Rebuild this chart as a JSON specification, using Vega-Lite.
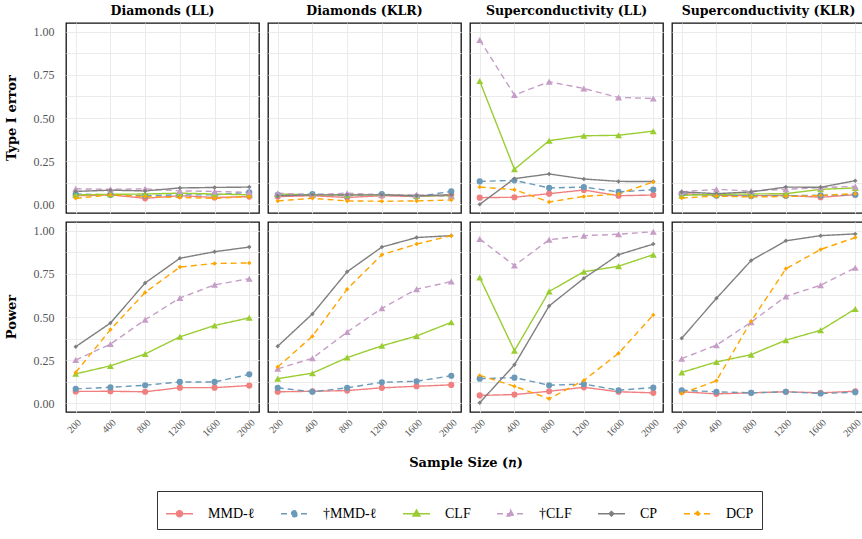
{
  "$schema": "https://vega.github.io/schema/vega-lite/v6.json",
  "background": "white",
  "padding": {"left": 5, "right": 6, "top": 4, "bottom": 6},
  "data": {
    "values": [
      {"dataset": "Diamonds (LL)", "metric": "Type I error", "method": "MMD-ℓ", "n": 200, "value": 0.05},
      {"dataset": "Diamonds (LL)", "metric": "Type I error", "method": "MMD-ℓ", "n": 400, "value": 0.055},
      {"dataset": "Diamonds (LL)", "metric": "Type I error", "method": "MMD-ℓ", "n": 800, "value": 0.035},
      {"dataset": "Diamonds (LL)", "metric": "Type I error", "method": "MMD-ℓ", "n": 1200, "value": 0.05},
      {"dataset": "Diamonds (LL)", "metric": "Type I error", "method": "MMD-ℓ", "n": 1600, "value": 0.04},
      {"dataset": "Diamonds (LL)", "metric": "Type I error", "method": "MMD-ℓ", "n": 2000, "value": 0.045},
      {"dataset": "Diamonds (LL)", "metric": "Type I error", "method": "†MMD-ℓ", "n": 200, "value": 0.06},
      {"dataset": "Diamonds (LL)", "metric": "Type I error", "method": "†MMD-ℓ", "n": 400, "value": 0.055},
      {"dataset": "Diamonds (LL)", "metric": "Type I error", "method": "†MMD-ℓ", "n": 800, "value": 0.05},
      {"dataset": "Diamonds (LL)", "metric": "Type I error", "method": "†MMD-ℓ", "n": 1200, "value": 0.055},
      {"dataset": "Diamonds (LL)", "metric": "Type I error", "method": "†MMD-ℓ", "n": 1600, "value": 0.055},
      {"dataset": "Diamonds (LL)", "metric": "Type I error", "method": "†MMD-ℓ", "n": 2000, "value": 0.07},
      {"dataset": "Diamonds (LL)", "metric": "Type I error", "method": "CLF", "n": 200, "value": 0.055},
      {"dataset": "Diamonds (LL)", "metric": "Type I error", "method": "CLF", "n": 400, "value": 0.058},
      {"dataset": "Diamonds (LL)", "metric": "Type I error", "method": "CLF", "n": 800, "value": 0.06},
      {"dataset": "Diamonds (LL)", "metric": "Type I error", "method": "CLF", "n": 1200, "value": 0.065},
      {"dataset": "Diamonds (LL)", "metric": "Type I error", "method": "CLF", "n": 1600, "value": 0.06},
      {"dataset": "Diamonds (LL)", "metric": "Type I error", "method": "CLF", "n": 2000, "value": 0.055},
      {"dataset": "Diamonds (LL)", "metric": "Type I error", "method": "†CLF", "n": 200, "value": 0.09},
      {"dataset": "Diamonds (LL)", "metric": "Type I error", "method": "†CLF", "n": 400, "value": 0.087},
      {"dataset": "Diamonds (LL)", "metric": "Type I error", "method": "†CLF", "n": 800, "value": 0.09},
      {"dataset": "Diamonds (LL)", "metric": "Type I error", "method": "†CLF", "n": 1200, "value": 0.078},
      {"dataset": "Diamonds (LL)", "metric": "Type I error", "method": "†CLF", "n": 1600, "value": 0.075},
      {"dataset": "Diamonds (LL)", "metric": "Type I error", "method": "†CLF", "n": 2000, "value": 0.07},
      {"dataset": "Diamonds (LL)", "metric": "Type I error", "method": "CP", "n": 200, "value": 0.075},
      {"dataset": "Diamonds (LL)", "metric": "Type I error", "method": "CP", "n": 400, "value": 0.082},
      {"dataset": "Diamonds (LL)", "metric": "Type I error", "method": "CP", "n": 800, "value": 0.078},
      {"dataset": "Diamonds (LL)", "metric": "Type I error", "method": "CP", "n": 1200, "value": 0.095},
      {"dataset": "Diamonds (LL)", "metric": "Type I error", "method": "CP", "n": 1600, "value": 0.098},
      {"dataset": "Diamonds (LL)", "metric": "Type I error", "method": "CP", "n": 2000, "value": 0.1},
      {"dataset": "Diamonds (LL)", "metric": "Type I error", "method": "DCP", "n": 200, "value": 0.035},
      {"dataset": "Diamonds (LL)", "metric": "Type I error", "method": "DCP", "n": 400, "value": 0.055},
      {"dataset": "Diamonds (LL)", "metric": "Type I error", "method": "DCP", "n": 800, "value": 0.045},
      {"dataset": "Diamonds (LL)", "metric": "Type I error", "method": "DCP", "n": 1200, "value": 0.04},
      {"dataset": "Diamonds (LL)", "metric": "Type I error", "method": "DCP", "n": 1600, "value": 0.035},
      {"dataset": "Diamonds (LL)", "metric": "Type I error", "method": "DCP", "n": 2000, "value": 0.045},

      {"dataset": "Diamonds (KLR)", "metric": "Type I error", "method": "MMD-ℓ", "n": 200, "value": 0.045},
      {"dataset": "Diamonds (KLR)", "metric": "Type I error", "method": "MMD-ℓ", "n": 400, "value": 0.05},
      {"dataset": "Diamonds (KLR)", "metric": "Type I error", "method": "MMD-ℓ", "n": 800, "value": 0.04},
      {"dataset": "Diamonds (KLR)", "metric": "Type I error", "method": "MMD-ℓ", "n": 1200, "value": 0.05},
      {"dataset": "Diamonds (KLR)", "metric": "Type I error", "method": "MMD-ℓ", "n": 1600, "value": 0.045},
      {"dataset": "Diamonds (KLR)", "metric": "Type I error", "method": "MMD-ℓ", "n": 2000, "value": 0.055},
      {"dataset": "Diamonds (KLR)", "metric": "Type I error", "method": "†MMD-ℓ", "n": 200, "value": 0.055},
      {"dataset": "Diamonds (KLR)", "metric": "Type I error", "method": "†MMD-ℓ", "n": 400, "value": 0.06},
      {"dataset": "Diamonds (KLR)", "metric": "Type I error", "method": "†MMD-ℓ", "n": 800, "value": 0.05},
      {"dataset": "Diamonds (KLR)", "metric": "Type I error", "method": "†MMD-ℓ", "n": 1200, "value": 0.06},
      {"dataset": "Diamonds (KLR)", "metric": "Type I error", "method": "†MMD-ℓ", "n": 1600, "value": 0.045},
      {"dataset": "Diamonds (KLR)", "metric": "Type I error", "method": "†MMD-ℓ", "n": 2000, "value": 0.075},
      {"dataset": "Diamonds (KLR)", "metric": "Type I error", "method": "CLF", "n": 200, "value": 0.06},
      {"dataset": "Diamonds (KLR)", "metric": "Type I error", "method": "CLF", "n": 400, "value": 0.055},
      {"dataset": "Diamonds (KLR)", "metric": "Type I error", "method": "CLF", "n": 800, "value": 0.055},
      {"dataset": "Diamonds (KLR)", "metric": "Type I error", "method": "CLF", "n": 1200, "value": 0.055},
      {"dataset": "Diamonds (KLR)", "metric": "Type I error", "method": "CLF", "n": 1600, "value": 0.05},
      {"dataset": "Diamonds (KLR)", "metric": "Type I error", "method": "CLF", "n": 2000, "value": 0.05},
      {"dataset": "Diamonds (KLR)", "metric": "Type I error", "method": "†CLF", "n": 200, "value": 0.065},
      {"dataset": "Diamonds (KLR)", "metric": "Type I error", "method": "†CLF", "n": 400, "value": 0.055},
      {"dataset": "Diamonds (KLR)", "metric": "Type I error", "method": "†CLF", "n": 800, "value": 0.065},
      {"dataset": "Diamonds (KLR)", "metric": "Type I error", "method": "†CLF", "n": 1200, "value": 0.055},
      {"dataset": "Diamonds (KLR)", "metric": "Type I error", "method": "†CLF", "n": 1600, "value": 0.055},
      {"dataset": "Diamonds (KLR)", "metric": "Type I error", "method": "†CLF", "n": 2000, "value": 0.045},
      {"dataset": "Diamonds (KLR)", "metric": "Type I error", "method": "CP", "n": 200, "value": 0.05},
      {"dataset": "Diamonds (KLR)", "metric": "Type I error", "method": "CP", "n": 400, "value": 0.055},
      {"dataset": "Diamonds (KLR)", "metric": "Type I error", "method": "CP", "n": 800, "value": 0.055},
      {"dataset": "Diamonds (KLR)", "metric": "Type I error", "method": "CP", "n": 1200, "value": 0.055},
      {"dataset": "Diamonds (KLR)", "metric": "Type I error", "method": "CP", "n": 1600, "value": 0.05},
      {"dataset": "Diamonds (KLR)", "metric": "Type I error", "method": "CP", "n": 2000, "value": 0.055},
      {"dataset": "Diamonds (KLR)", "metric": "Type I error", "method": "DCP", "n": 200, "value": 0.02},
      {"dataset": "Diamonds (KLR)", "metric": "Type I error", "method": "DCP", "n": 400, "value": 0.035},
      {"dataset": "Diamonds (KLR)", "metric": "Type I error", "method": "DCP", "n": 800, "value": 0.02},
      {"dataset": "Diamonds (KLR)", "metric": "Type I error", "method": "DCP", "n": 1200, "value": 0.018},
      {"dataset": "Diamonds (KLR)", "metric": "Type I error", "method": "DCP", "n": 1600, "value": 0.02},
      {"dataset": "Diamonds (KLR)", "metric": "Type I error", "method": "DCP", "n": 2000, "value": 0.025},

      {"dataset": "Superconductivity (LL)", "metric": "Type I error", "method": "MMD-ℓ", "n": 200, "value": 0.039},
      {"dataset": "Superconductivity (LL)", "metric": "Type I error", "method": "MMD-ℓ", "n": 400, "value": 0.041},
      {"dataset": "Superconductivity (LL)", "metric": "Type I error", "method": "MMD-ℓ", "n": 800, "value": 0.062},
      {"dataset": "Superconductivity (LL)", "metric": "Type I error", "method": "MMD-ℓ", "n": 1200, "value": 0.083},
      {"dataset": "Superconductivity (LL)", "metric": "Type I error", "method": "MMD-ℓ", "n": 1600, "value": 0.05},
      {"dataset": "Superconductivity (LL)", "metric": "Type I error", "method": "MMD-ℓ", "n": 2000, "value": 0.054},
      {"dataset": "Superconductivity (LL)", "metric": "Type I error", "method": "†MMD-ℓ", "n": 200, "value": 0.133},
      {"dataset": "Superconductivity (LL)", "metric": "Type I error", "method": "†MMD-ℓ", "n": 400, "value": 0.139},
      {"dataset": "Superconductivity (LL)", "metric": "Type I error", "method": "†MMD-ℓ", "n": 800, "value": 0.095},
      {"dataset": "Superconductivity (LL)", "metric": "Type I error", "method": "†MMD-ℓ", "n": 1200, "value": 0.1},
      {"dataset": "Superconductivity (LL)", "metric": "Type I error", "method": "†MMD-ℓ", "n": 1600, "value": 0.072},
      {"dataset": "Superconductivity (LL)", "metric": "Type I error", "method": "†MMD-ℓ", "n": 2000, "value": 0.085},
      {"dataset": "Superconductivity (LL)", "metric": "Type I error", "method": "CLF", "n": 200, "value": 0.714},
      {"dataset": "Superconductivity (LL)", "metric": "Type I error", "method": "CLF", "n": 400, "value": 0.203},
      {"dataset": "Superconductivity (LL)", "metric": "Type I error", "method": "CLF", "n": 800, "value": 0.369},
      {"dataset": "Superconductivity (LL)", "metric": "Type I error", "method": "CLF", "n": 1200, "value": 0.397},
      {"dataset": "Superconductivity (LL)", "metric": "Type I error", "method": "CLF", "n": 1600, "value": 0.4},
      {"dataset": "Superconductivity (LL)", "metric": "Type I error", "method": "CLF", "n": 2000, "value": 0.424},
      {"dataset": "Superconductivity (LL)", "metric": "Type I error", "method": "†CLF", "n": 200, "value": 0.952},
      {"dataset": "Superconductivity (LL)", "metric": "Type I error", "method": "†CLF", "n": 400, "value": 0.633},
      {"dataset": "Superconductivity (LL)", "metric": "Type I error", "method": "†CLF", "n": 800, "value": 0.71},
      {"dataset": "Superconductivity (LL)", "metric": "Type I error", "method": "†CLF", "n": 1200, "value": 0.671},
      {"dataset": "Superconductivity (LL)", "metric": "Type I error", "method": "†CLF", "n": 1600, "value": 0.619},
      {"dataset": "Superconductivity (LL)", "metric": "Type I error", "method": "†CLF", "n": 2000, "value": 0.613},
      {"dataset": "Superconductivity (LL)", "metric": "Type I error", "method": "CP", "n": 200, "value": 0.0},
      {"dataset": "Superconductivity (LL)", "metric": "Type I error", "method": "CP", "n": 400, "value": 0.149},
      {"dataset": "Superconductivity (LL)", "metric": "Type I error", "method": "CP", "n": 800, "value": 0.176},
      {"dataset": "Superconductivity (LL)", "metric": "Type I error", "method": "CP", "n": 1200, "value": 0.147},
      {"dataset": "Superconductivity (LL)", "metric": "Type I error", "method": "CP", "n": 1600, "value": 0.133},
      {"dataset": "Superconductivity (LL)", "metric": "Type I error", "method": "CP", "n": 2000, "value": 0.132},
      {"dataset": "Superconductivity (LL)", "metric": "Type I error", "method": "DCP", "n": 200, "value": 0.1},
      {"dataset": "Superconductivity (LL)", "metric": "Type I error", "method": "DCP", "n": 400, "value": 0.085},
      {"dataset": "Superconductivity (LL)", "metric": "Type I error", "method": "DCP", "n": 800, "value": 0.014},
      {"dataset": "Superconductivity (LL)", "metric": "Type I error", "method": "DCP", "n": 1200, "value": 0.046},
      {"dataset": "Superconductivity (LL)", "metric": "Type I error", "method": "DCP", "n": 1600, "value": 0.06},
      {"dataset": "Superconductivity (LL)", "metric": "Type I error", "method": "DCP", "n": 2000, "value": 0.13},

      {"dataset": "Superconductivity (KLR)", "metric": "Type I error", "method": "MMD-ℓ", "n": 200, "value": 0.062},
      {"dataset": "Superconductivity (KLR)", "metric": "Type I error", "method": "MMD-ℓ", "n": 400, "value": 0.052},
      {"dataset": "Superconductivity (KLR)", "metric": "Type I error", "method": "MMD-ℓ", "n": 800, "value": 0.05},
      {"dataset": "Superconductivity (KLR)", "metric": "Type I error", "method": "MMD-ℓ", "n": 1200, "value": 0.052},
      {"dataset": "Superconductivity (KLR)", "metric": "Type I error", "method": "MMD-ℓ", "n": 1600, "value": 0.041},
      {"dataset": "Superconductivity (KLR)", "metric": "Type I error", "method": "MMD-ℓ", "n": 2000, "value": 0.056},
      {"dataset": "Superconductivity (KLR)", "metric": "Type I error", "method": "†MMD-ℓ", "n": 200, "value": 0.06},
      {"dataset": "Superconductivity (KLR)", "metric": "Type I error", "method": "†MMD-ℓ", "n": 400, "value": 0.052},
      {"dataset": "Superconductivity (KLR)", "metric": "Type I error", "method": "†MMD-ℓ", "n": 800, "value": 0.048},
      {"dataset": "Superconductivity (KLR)", "metric": "Type I error", "method": "†MMD-ℓ", "n": 1200, "value": 0.05},
      {"dataset": "Superconductivity (KLR)", "metric": "Type I error", "method": "†MMD-ℓ", "n": 1600, "value": 0.052},
      {"dataset": "Superconductivity (KLR)", "metric": "Type I error", "method": "†MMD-ℓ", "n": 2000, "value": 0.056},
      {"dataset": "Superconductivity (KLR)", "metric": "Type I error", "method": "CLF", "n": 200, "value": 0.052},
      {"dataset": "Superconductivity (KLR)", "metric": "Type I error", "method": "CLF", "n": 400, "value": 0.058},
      {"dataset": "Superconductivity (KLR)", "metric": "Type I error", "method": "CLF", "n": 800, "value": 0.06},
      {"dataset": "Superconductivity (KLR)", "metric": "Type I error", "method": "CLF", "n": 1200, "value": 0.062},
      {"dataset": "Superconductivity (KLR)", "metric": "Type I error", "method": "CLF", "n": 1600, "value": 0.087},
      {"dataset": "Superconductivity (KLR)", "metric": "Type I error", "method": "CLF", "n": 2000, "value": 0.095},
      {"dataset": "Superconductivity (KLR)", "metric": "Type I error", "method": "†CLF", "n": 200, "value": 0.073},
      {"dataset": "Superconductivity (KLR)", "metric": "Type I error", "method": "†CLF", "n": 400, "value": 0.087},
      {"dataset": "Superconductivity (KLR)", "metric": "Type I error", "method": "†CLF", "n": 800, "value": 0.077},
      {"dataset": "Superconductivity (KLR)", "metric": "Type I error", "method": "†CLF", "n": 1200, "value": 0.087},
      {"dataset": "Superconductivity (KLR)", "metric": "Type I error", "method": "†CLF", "n": 1600, "value": 0.097},
      {"dataset": "Superconductivity (KLR)", "metric": "Type I error", "method": "†CLF", "n": 2000, "value": 0.104},
      {"dataset": "Superconductivity (KLR)", "metric": "Type I error", "method": "CP", "n": 200, "value": 0.072},
      {"dataset": "Superconductivity (KLR)", "metric": "Type I error", "method": "CP", "n": 400, "value": 0.062},
      {"dataset": "Superconductivity (KLR)", "metric": "Type I error", "method": "CP", "n": 800, "value": 0.072},
      {"dataset": "Superconductivity (KLR)", "metric": "Type I error", "method": "CP", "n": 1200, "value": 0.1},
      {"dataset": "Superconductivity (KLR)", "metric": "Type I error", "method": "CP", "n": 1600, "value": 0.099},
      {"dataset": "Superconductivity (KLR)", "metric": "Type I error", "method": "CP", "n": 2000, "value": 0.137},
      {"dataset": "Superconductivity (KLR)", "metric": "Type I error", "method": "DCP", "n": 200, "value": 0.037},
      {"dataset": "Superconductivity (KLR)", "metric": "Type I error", "method": "DCP", "n": 400, "value": 0.048},
      {"dataset": "Superconductivity (KLR)", "metric": "Type I error", "method": "DCP", "n": 800, "value": 0.043},
      {"dataset": "Superconductivity (KLR)", "metric": "Type I error", "method": "DCP", "n": 1200, "value": 0.045},
      {"dataset": "Superconductivity (KLR)", "metric": "Type I error", "method": "DCP", "n": 1600, "value": 0.052},
      {"dataset": "Superconductivity (KLR)", "metric": "Type I error", "method": "DCP", "n": 2000, "value": 0.062},

      {"dataset": "Diamonds (LL)", "metric": "Power", "method": "MMD-ℓ", "n": 200, "value": 0.069},
      {"dataset": "Diamonds (LL)", "metric": "Power", "method": "MMD-ℓ", "n": 400, "value": 0.07},
      {"dataset": "Diamonds (LL)", "metric": "Power", "method": "MMD-ℓ", "n": 800, "value": 0.067},
      {"dataset": "Diamonds (LL)", "metric": "Power", "method": "MMD-ℓ", "n": 1200, "value": 0.091},
      {"dataset": "Diamonds (LL)", "metric": "Power", "method": "MMD-ℓ", "n": 1600, "value": 0.091},
      {"dataset": "Diamonds (LL)", "metric": "Power", "method": "MMD-ℓ", "n": 2000, "value": 0.103},
      {"dataset": "Diamonds (LL)", "metric": "Power", "method": "†MMD-ℓ", "n": 200, "value": 0.084},
      {"dataset": "Diamonds (LL)", "metric": "Power", "method": "†MMD-ℓ", "n": 400, "value": 0.093},
      {"dataset": "Diamonds (LL)", "metric": "Power", "method": "†MMD-ℓ", "n": 800, "value": 0.105},
      {"dataset": "Diamonds (LL)", "metric": "Power", "method": "†MMD-ℓ", "n": 1200, "value": 0.124},
      {"dataset": "Diamonds (LL)", "metric": "Power", "method": "†MMD-ℓ", "n": 1600, "value": 0.124},
      {"dataset": "Diamonds (LL)", "metric": "Power", "method": "†MMD-ℓ", "n": 2000, "value": 0.168},
      {"dataset": "Diamonds (LL)", "metric": "Power", "method": "CLF", "n": 200, "value": 0.171},
      {"dataset": "Diamonds (LL)", "metric": "Power", "method": "CLF", "n": 400, "value": 0.217},
      {"dataset": "Diamonds (LL)", "metric": "Power", "method": "CLF", "n": 800, "value": 0.286},
      {"dataset": "Diamonds (LL)", "metric": "Power", "method": "CLF", "n": 1200, "value": 0.385},
      {"dataset": "Diamonds (LL)", "metric": "Power", "method": "CLF", "n": 1600, "value": 0.451},
      {"dataset": "Diamonds (LL)", "metric": "Power", "method": "CLF", "n": 2000, "value": 0.495},
      {"dataset": "Diamonds (LL)", "metric": "Power", "method": "†CLF", "n": 200, "value": 0.251},
      {"dataset": "Diamonds (LL)", "metric": "Power", "method": "†CLF", "n": 400, "value": 0.343},
      {"dataset": "Diamonds (LL)", "metric": "Power", "method": "†CLF", "n": 800, "value": 0.484},
      {"dataset": "Diamonds (LL)", "metric": "Power", "method": "†CLF", "n": 1200, "value": 0.61},
      {"dataset": "Diamonds (LL)", "metric": "Power", "method": "†CLF", "n": 1600, "value": 0.686},
      {"dataset": "Diamonds (LL)", "metric": "Power", "method": "†CLF", "n": 2000, "value": 0.722},
      {"dataset": "Diamonds (LL)", "metric": "Power", "method": "CP", "n": 200, "value": 0.328},
      {"dataset": "Diamonds (LL)", "metric": "Power", "method": "CP", "n": 400, "value": 0.465},
      {"dataset": "Diamonds (LL)", "metric": "Power", "method": "CP", "n": 800, "value": 0.697},
      {"dataset": "Diamonds (LL)", "metric": "Power", "method": "CP", "n": 1200, "value": 0.84},
      {"dataset": "Diamonds (LL)", "metric": "Power", "method": "CP", "n": 1600, "value": 0.878},
      {"dataset": "Diamonds (LL)", "metric": "Power", "method": "CP", "n": 2000, "value": 0.905},
      {"dataset": "Diamonds (LL)", "metric": "Power", "method": "DCP", "n": 200, "value": 0.179},
      {"dataset": "Diamonds (LL)", "metric": "Power", "method": "DCP", "n": 400, "value": 0.427},
      {"dataset": "Diamonds (LL)", "metric": "Power", "method": "DCP", "n": 800, "value": 0.642},
      {"dataset": "Diamonds (LL)", "metric": "Power", "method": "DCP", "n": 1200, "value": 0.789},
      {"dataset": "Diamonds (LL)", "metric": "Power", "method": "DCP", "n": 1600, "value": 0.81},
      {"dataset": "Diamonds (LL)", "metric": "Power", "method": "DCP", "n": 2000, "value": 0.813},

      {"dataset": "Diamonds (KLR)", "metric": "Power", "method": "MMD-ℓ", "n": 200, "value": 0.067},
      {"dataset": "Diamonds (KLR)", "metric": "Power", "method": "MMD-ℓ", "n": 400, "value": 0.07},
      {"dataset": "Diamonds (KLR)", "metric": "Power", "method": "MMD-ℓ", "n": 800, "value": 0.074},
      {"dataset": "Diamonds (KLR)", "metric": "Power", "method": "MMD-ℓ", "n": 1200, "value": 0.09},
      {"dataset": "Diamonds (KLR)", "metric": "Power", "method": "MMD-ℓ", "n": 1600, "value": 0.099},
      {"dataset": "Diamonds (KLR)", "metric": "Power", "method": "MMD-ℓ", "n": 2000, "value": 0.107},
      {"dataset": "Diamonds (KLR)", "metric": "Power", "method": "†MMD-ℓ", "n": 200, "value": 0.09},
      {"dataset": "Diamonds (KLR)", "metric": "Power", "method": "†MMD-ℓ", "n": 400, "value": 0.067},
      {"dataset": "Diamonds (KLR)", "metric": "Power", "method": "†MMD-ℓ", "n": 800, "value": 0.09},
      {"dataset": "Diamonds (KLR)", "metric": "Power", "method": "†MMD-ℓ", "n": 1200, "value": 0.122},
      {"dataset": "Diamonds (KLR)", "metric": "Power", "method": "†MMD-ℓ", "n": 1600, "value": 0.128},
      {"dataset": "Diamonds (KLR)", "metric": "Power", "method": "†MMD-ℓ", "n": 2000, "value": 0.16},
      {"dataset": "Diamonds (KLR)", "metric": "Power", "method": "CLF", "n": 200, "value": 0.143},
      {"dataset": "Diamonds (KLR)", "metric": "Power", "method": "CLF", "n": 400, "value": 0.175},
      {"dataset": "Diamonds (KLR)", "metric": "Power", "method": "CLF", "n": 800, "value": 0.265},
      {"dataset": "Diamonds (KLR)", "metric": "Power", "method": "CLF", "n": 1200, "value": 0.333},
      {"dataset": "Diamonds (KLR)", "metric": "Power", "method": "CLF", "n": 1600, "value": 0.39},
      {"dataset": "Diamonds (KLR)", "metric": "Power", "method": "CLF", "n": 2000, "value": 0.469},
      {"dataset": "Diamonds (KLR)", "metric": "Power", "method": "†CLF", "n": 200, "value": 0.2},
      {"dataset": "Diamonds (KLR)", "metric": "Power", "method": "†CLF", "n": 400, "value": 0.261},
      {"dataset": "Diamonds (KLR)", "metric": "Power", "method": "†CLF", "n": 800, "value": 0.413},
      {"dataset": "Diamonds (KLR)", "metric": "Power", "method": "†CLF", "n": 1200, "value": 0.55},
      {"dataset": "Diamonds (KLR)", "metric": "Power", "method": "†CLF", "n": 1600, "value": 0.661},
      {"dataset": "Diamonds (KLR)", "metric": "Power", "method": "†CLF", "n": 2000, "value": 0.705},
      {"dataset": "Diamonds (KLR)", "metric": "Power", "method": "CP", "n": 200, "value": 0.331},
      {"dataset": "Diamonds (KLR)", "metric": "Power", "method": "CP", "n": 400, "value": 0.518},
      {"dataset": "Diamonds (KLR)", "metric": "Power", "method": "CP", "n": 800, "value": 0.762},
      {"dataset": "Diamonds (KLR)", "metric": "Power", "method": "CP", "n": 1200, "value": 0.905},
      {"dataset": "Diamonds (KLR)", "metric": "Power", "method": "CP", "n": 1600, "value": 0.96},
      {"dataset": "Diamonds (KLR)", "metric": "Power", "method": "CP", "n": 2000, "value": 0.971},
      {"dataset": "Diamonds (KLR)", "metric": "Power", "method": "DCP", "n": 200, "value": 0.21},
      {"dataset": "Diamonds (KLR)", "metric": "Power", "method": "DCP", "n": 400, "value": 0.389},
      {"dataset": "Diamonds (KLR)", "metric": "Power", "method": "DCP", "n": 800, "value": 0.661},
      {"dataset": "Diamonds (KLR)", "metric": "Power", "method": "DCP", "n": 1200, "value": 0.861},
      {"dataset": "Diamonds (KLR)", "metric": "Power", "method": "DCP", "n": 1600, "value": 0.922},
      {"dataset": "Diamonds (KLR)", "metric": "Power", "method": "DCP", "n": 2000, "value": 0.971},

      {"dataset": "Superconductivity (LL)", "metric": "Power", "method": "MMD-ℓ", "n": 200, "value": 0.046},
      {"dataset": "Superconductivity (LL)", "metric": "Power", "method": "MMD-ℓ", "n": 400, "value": 0.051},
      {"dataset": "Superconductivity (LL)", "metric": "Power", "method": "MMD-ℓ", "n": 800, "value": 0.07},
      {"dataset": "Superconductivity (LL)", "metric": "Power", "method": "MMD-ℓ", "n": 1200, "value": 0.093},
      {"dataset": "Superconductivity (LL)", "metric": "Power", "method": "MMD-ℓ", "n": 1600, "value": 0.067},
      {"dataset": "Superconductivity (LL)", "metric": "Power", "method": "MMD-ℓ", "n": 2000, "value": 0.061},
      {"dataset": "Superconductivity (LL)", "metric": "Power", "method": "†MMD-ℓ", "n": 200, "value": 0.143},
      {"dataset": "Superconductivity (LL)", "metric": "Power", "method": "†MMD-ℓ", "n": 400, "value": 0.149},
      {"dataset": "Superconductivity (LL)", "metric": "Power", "method": "†MMD-ℓ", "n": 800, "value": 0.105},
      {"dataset": "Superconductivity (LL)", "metric": "Power", "method": "†MMD-ℓ", "n": 1200, "value": 0.112},
      {"dataset": "Superconductivity (LL)", "metric": "Power", "method": "†MMD-ℓ", "n": 1600, "value": 0.076},
      {"dataset": "Superconductivity (LL)", "metric": "Power", "method": "†MMD-ℓ", "n": 2000, "value": 0.091},
      {"dataset": "Superconductivity (LL)", "metric": "Power", "method": "CLF", "n": 200, "value": 0.728},
      {"dataset": "Superconductivity (LL)", "metric": "Power", "method": "CLF", "n": 400, "value": 0.305},
      {"dataset": "Superconductivity (LL)", "metric": "Power", "method": "CLF", "n": 800, "value": 0.648},
      {"dataset": "Superconductivity (LL)", "metric": "Power", "method": "CLF", "n": 1200, "value": 0.762},
      {"dataset": "Superconductivity (LL)", "metric": "Power", "method": "CLF", "n": 1600, "value": 0.794},
      {"dataset": "Superconductivity (LL)", "metric": "Power", "method": "CLF", "n": 2000, "value": 0.861},
      {"dataset": "Superconductivity (LL)", "metric": "Power", "method": "†CLF", "n": 200, "value": 0.952},
      {"dataset": "Superconductivity (LL)", "metric": "Power", "method": "†CLF", "n": 400, "value": 0.798},
      {"dataset": "Superconductivity (LL)", "metric": "Power", "method": "†CLF", "n": 800, "value": 0.947},
      {"dataset": "Superconductivity (LL)", "metric": "Power", "method": "†CLF", "n": 1200, "value": 0.971},
      {"dataset": "Superconductivity (LL)", "metric": "Power", "method": "†CLF", "n": 1600, "value": 0.979},
      {"dataset": "Superconductivity (LL)", "metric": "Power", "method": "†CLF", "n": 2000, "value": 0.994},
      {"dataset": "Superconductivity (LL)", "metric": "Power", "method": "CP", "n": 200, "value": 0.004},
      {"dataset": "Superconductivity (LL)", "metric": "Power", "method": "CP", "n": 400, "value": 0.223},
      {"dataset": "Superconductivity (LL)", "metric": "Power", "method": "CP", "n": 800, "value": 0.564},
      {"dataset": "Superconductivity (LL)", "metric": "Power", "method": "CP", "n": 1200, "value": 0.724},
      {"dataset": "Superconductivity (LL)", "metric": "Power", "method": "CP", "n": 1600, "value": 0.861},
      {"dataset": "Superconductivity (LL)", "metric": "Power", "method": "CP", "n": 2000, "value": 0.922},
      {"dataset": "Superconductivity (LL)", "metric": "Power", "method": "DCP", "n": 200, "value": 0.162},
      {"dataset": "Superconductivity (LL)", "metric": "Power", "method": "DCP", "n": 400, "value": 0.099},
      {"dataset": "Superconductivity (LL)", "metric": "Power", "method": "DCP", "n": 800, "value": 0.027},
      {"dataset": "Superconductivity (LL)", "metric": "Power", "method": "DCP", "n": 1200, "value": 0.133},
      {"dataset": "Superconductivity (LL)", "metric": "Power", "method": "DCP", "n": 1600, "value": 0.29},
      {"dataset": "Superconductivity (LL)", "metric": "Power", "method": "DCP", "n": 2000, "value": 0.512},

      {"dataset": "Superconductivity (KLR)", "metric": "Power", "method": "MMD-ℓ", "n": 200, "value": 0.067},
      {"dataset": "Superconductivity (KLR)", "metric": "Power", "method": "MMD-ℓ", "n": 400, "value": 0.055},
      {"dataset": "Superconductivity (KLR)", "metric": "Power", "method": "MMD-ℓ", "n": 800, "value": 0.061},
      {"dataset": "Superconductivity (KLR)", "metric": "Power", "method": "MMD-ℓ", "n": 1200, "value": 0.067},
      {"dataset": "Superconductivity (KLR)", "metric": "Power", "method": "MMD-ℓ", "n": 1600, "value": 0.061},
      {"dataset": "Superconductivity (KLR)", "metric": "Power", "method": "MMD-ℓ", "n": 2000, "value": 0.07},
      {"dataset": "Superconductivity (KLR)", "metric": "Power", "method": "†MMD-ℓ", "n": 200, "value": 0.076},
      {"dataset": "Superconductivity (KLR)", "metric": "Power", "method": "†MMD-ℓ", "n": 400, "value": 0.067},
      {"dataset": "Superconductivity (KLR)", "metric": "Power", "method": "†MMD-ℓ", "n": 800, "value": 0.061},
      {"dataset": "Superconductivity (KLR)", "metric": "Power", "method": "†MMD-ℓ", "n": 1200, "value": 0.067},
      {"dataset": "Superconductivity (KLR)", "metric": "Power", "method": "†MMD-ℓ", "n": 1600, "value": 0.057},
      {"dataset": "Superconductivity (KLR)", "metric": "Power", "method": "†MMD-ℓ", "n": 2000, "value": 0.065},
      {"dataset": "Superconductivity (KLR)", "metric": "Power", "method": "CLF", "n": 200, "value": 0.179},
      {"dataset": "Superconductivity (KLR)", "metric": "Power", "method": "CLF", "n": 400, "value": 0.24},
      {"dataset": "Superconductivity (KLR)", "metric": "Power", "method": "CLF", "n": 800, "value": 0.282},
      {"dataset": "Superconductivity (KLR)", "metric": "Power", "method": "CLF", "n": 1200, "value": 0.366},
      {"dataset": "Superconductivity (KLR)", "metric": "Power", "method": "CLF", "n": 1600, "value": 0.423},
      {"dataset": "Superconductivity (KLR)", "metric": "Power", "method": "CLF", "n": 2000, "value": 0.547},
      {"dataset": "Superconductivity (KLR)", "metric": "Power", "method": "†CLF", "n": 200, "value": 0.259},
      {"dataset": "Superconductivity (KLR)", "metric": "Power", "method": "†CLF", "n": 400, "value": 0.337},
      {"dataset": "Superconductivity (KLR)", "metric": "Power", "method": "†CLF", "n": 800, "value": 0.47},
      {"dataset": "Superconductivity (KLR)", "metric": "Power", "method": "†CLF", "n": 1200, "value": 0.619},
      {"dataset": "Superconductivity (KLR)", "metric": "Power", "method": "†CLF", "n": 1600, "value": 0.684},
      {"dataset": "Superconductivity (KLR)", "metric": "Power", "method": "†CLF", "n": 2000, "value": 0.785},
      {"dataset": "Superconductivity (KLR)", "metric": "Power", "method": "CP", "n": 200, "value": 0.377},
      {"dataset": "Superconductivity (KLR)", "metric": "Power", "method": "CP", "n": 400, "value": 0.608},
      {"dataset": "Superconductivity (KLR)", "metric": "Power", "method": "CP", "n": 800, "value": 0.827},
      {"dataset": "Superconductivity (KLR)", "metric": "Power", "method": "CP", "n": 1200, "value": 0.941},
      {"dataset": "Superconductivity (KLR)", "metric": "Power", "method": "CP", "n": 1600, "value": 0.971},
      {"dataset": "Superconductivity (KLR)", "metric": "Power", "method": "CP", "n": 2000, "value": 0.981},
      {"dataset": "Superconductivity (KLR)", "metric": "Power", "method": "DCP", "n": 200, "value": 0.057},
      {"dataset": "Superconductivity (KLR)", "metric": "Power", "method": "DCP", "n": 400, "value": 0.131},
      {"dataset": "Superconductivity (KLR)", "metric": "Power", "method": "DCP", "n": 800, "value": 0.476},
      {"dataset": "Superconductivity (KLR)", "metric": "Power", "method": "DCP", "n": 1200, "value": 0.779},
      {"dataset": "Superconductivity (KLR)", "metric": "Power", "method": "DCP", "n": 1600, "value": 0.891},
      {"dataset": "Superconductivity (KLR)", "metric": "Power", "method": "DCP", "n": 2000, "value": 0.96}
    ]
  },
  "facet": {
    "row": {
      "field": "metric",
      "type": "nominal",
      "sort": ["Type I error", "Power"],
      "header": {
        "title": null,
        "labelAngle": -90,
        "labelFont": "DejaVu Serif",
        "labelFontWeight": "bold",
        "labelFontSize": 13,
        "labelColor": "black",
        "labelPadding": 8
      }
    },
    "column": {
      "field": "dataset",
      "type": "nominal",
      "sort": ["Diamonds (LL)", "Diamonds (KLR)", "Superconductivity (LL)", "Superconductivity (KLR)"],
      "title": "Sample Size (𝑛)",
      "header": {
        "titleOrient": "bottom",
        "titleFont": "DejaVu Serif",
        "titleFontWeight": "bold",
        "titleFontSize": 13,
        "titleColor": "black",
        "titlePadding": 8,
        "labelOrient": "top",
        "labelFont": "DejaVu Serif",
        "labelFontWeight": "bold",
        "labelFontSize": 12.5,
        "labelColor": "black",
        "labelPadding": 5
      }
    }
  },
  "spacing": {"row": 7, "column": 7},
  "spec": {
    "width": 193,
    "height": 190,
    "encoding": {
      "x": {
        "field": "n",
        "type": "ordinal",
        "scale": {"type": "point", "padding": 0.28},
        "axis": {
          "title": null,
          "labelAngle": -45,
          "labelFont": "Liberation Serif",
          "labelFontSize": 10,
          "labelColor": "#555555",
          "labelPadding": 4,
          "ticks": false,
          "domain": false,
          "grid": true,
          "gridColor": "#EBEBEB",
          "gridWidth": 1
        }
      },
      "y": {
        "field": "value",
        "type": "quantitative",
        "scale": {"domain": [-0.05, 1.05], "nice": false, "zero": false},
        "axis": {
          "title": null,
          "values": [0, 0.125, 0.25, 0.375, 0.5, 0.625, 0.75, 0.875, 1],
          "labelExpr": "datum.value * 4 % 1 === 0 ? format(datum.value, '.2f') : ''",
          "labelFont": "Liberation Serif",
          "labelFontSize": 12,
          "labelColor": "#555555",
          "labelPadding": 11,
          "ticks": false,
          "domain": false,
          "grid": true,
          "gridColor": "#EBEBEB",
          "gridWidth": 1
        }
      },
      "color": {
        "field": "method",
        "type": "nominal",
        "scale": {
          "domain": ["MMD-ℓ", "†MMD-ℓ", "CLF", "†CLF", "CP", "DCP"],
          "range": ["#F08080", "#6A9AB8", "#9ACD32", "#C59DC6", "#7F7F7F", "#FFA500"]
        },
        "legend": {
          "title": null,
          "orient": "none",
          "legendX": 91,
          "legendY": 468,
          "direction": "horizontal",
          "strokeColor": "#333333",
          "padding": 8,
          "columnPadding": 23,
          "symbolSize": 729,
          "symbolStrokeWidth": 1.5,
          "labelFont": "Liberation Serif",
          "labelFontSize": 14,
          "labelColor": "black",
          "labelOffset": 14,
          "encode": {
            "symbols": {
              "update": {
                "shape": {"signal": "datum.value === 'CLF' || datum.value === '†CLF' ? 'M-1,0L1,0M0,-0.27L0.25,0.17L-0.25,0.17Z' : (datum.value === 'CP' || datum.value === 'DCP') ? 'M-1,0L1,0M0,-0.17L0.17,0L0,0.17L-0.17,0Z' : 'M-1,0L1,0M-0.22,0A0.22,0.22,0,1,1,0.22,0A0.22,0.22,0,1,1,-0.22,0Z'"},
                "strokeDash": {"signal": "indexof(datum.value, '†') === 0 || datum.value === 'DCP' ? [5, 4] : [1, 0]"},
                "fill": {"signal": "scale('color', datum.value)"},
                "stroke": {"signal": "scale('color', datum.value)"},
                "opacity": {"value": 1}
              }
            }
          }
        }
      }
    },
    "layer": [
      {
        "mark": {"type": "line", "strokeWidth": 1.4},
        "encoding": {
          "strokeDash": {
            "field": "method",
            "type": "nominal",
            "scale": {
              "domain": ["MMD-ℓ", "†MMD-ℓ", "CLF", "†CLF", "CP", "DCP"],
              "range": [[1, 0], [6, 4], [1, 0], [6, 4], [1, 0], [6, 4]]
            },
            "legend": null
          }
        }
      },
      {
        "transform": [{"filter": {"field": "method", "oneOf": ["MMD-ℓ", "†MMD-ℓ"]}}],
        "mark": {"type": "point", "shape": "circle", "size": 38, "filled": true, "opacity": 1}
      },
      {
        "transform": [{"filter": {"field": "method", "oneOf": ["CLF", "†CLF"]}}],
        "mark": {"type": "point", "shape": "triangle-up", "size": 48, "filled": true, "opacity": 1}
      },
      {
        "transform": [{"filter": {"field": "method", "oneOf": ["CP", "DCP"]}}],
        "mark": {"type": "point", "shape": "diamond", "size": 20, "filled": true, "opacity": 1}
      }
    ]
  },
  "config": {
    "view": {"stroke": "#111111", "strokeWidth": 1.3}
  }
}
